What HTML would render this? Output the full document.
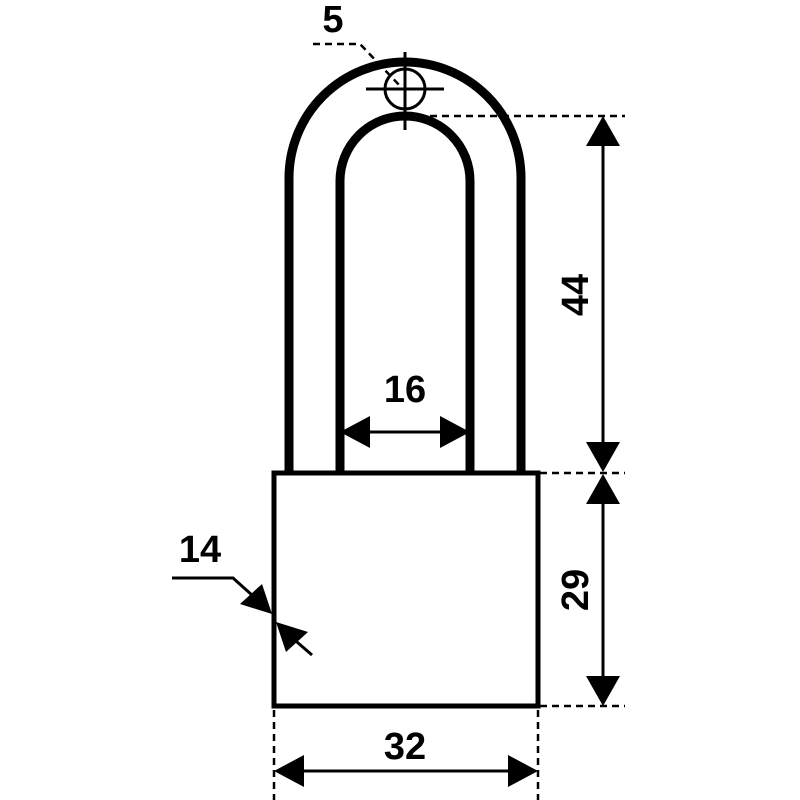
<!DOCTYPE html>
<html><head><style>body{margin:0;background:#fff}svg{display:block}text{font-family:"Liberation Sans",sans-serif;font-weight:bold;font-size:38px;fill:#000}</style></head>
<body>
<svg width="800" height="800" viewBox="0 0 800 800">
<g fill="none" stroke="#000">
<path d="M289 472 V178 A116 116 0 0 1 521 178 V472" stroke-width="9"/>
<path d="M340 472 V181 A65 65 0 0 1 470 181 V472" stroke-width="9"/>
<rect x="274" y="473" width="264" height="233" stroke-width="5"/>
<circle cx="405" cy="89" r="20" stroke-width="3"/>
<path d="M366 89 H444 M405 52 V130" stroke-width="3"/>
<g stroke-width="2.5" stroke-dasharray="7 5">
<path d="M313 44 H360 L402 88"/>
<path d="M430 116 H625"/>
<path d="M540 473 H625"/>
<path d="M540 706 H625"/>
<path d="M274 710 V800"/>
<path d="M538 710 V800"/>
</g>
<g stroke-width="3">
<path d="M603 130 V460"/>
<path d="M603 488 V692"/>
<path d="M290 771 H522"/>
<path d="M356 432 H454"/>
<path d="M172 578 H233 L262 604"/>
<path d="M290 636 L312 655"/>
</g>
</g>
<g fill="#000">
<polygon points="603,116 586,146 620,146"/>
<polygon points="603,472 586,442 620,442"/>
<polygon points="603,474 586,504 620,504"/>
<polygon points="603,706 586,676 620,676"/>
<polygon points="274,771 304,755 304,787"/>
<polygon points="538,771 508,755 508,787"/>
<polygon points="340,432 370,416 370,448"/>
<polygon points="470,432 440,416 440,448"/>
<polygon points="272,614 240,604 262,584"/>
<polygon points="276,622 308,632 286,652"/>
</g>
<text x="333" y="32" text-anchor="middle">5</text>
<text x="405" y="402" text-anchor="middle">16</text>
<text x="200" y="562" text-anchor="middle">14</text>
<text x="405" y="759" text-anchor="middle">32</text>
<text transform="translate(588,295) rotate(-90)" text-anchor="middle">44</text>
<text transform="translate(588,590) rotate(-90)" text-anchor="middle">29</text>
</svg>
</body></html>
